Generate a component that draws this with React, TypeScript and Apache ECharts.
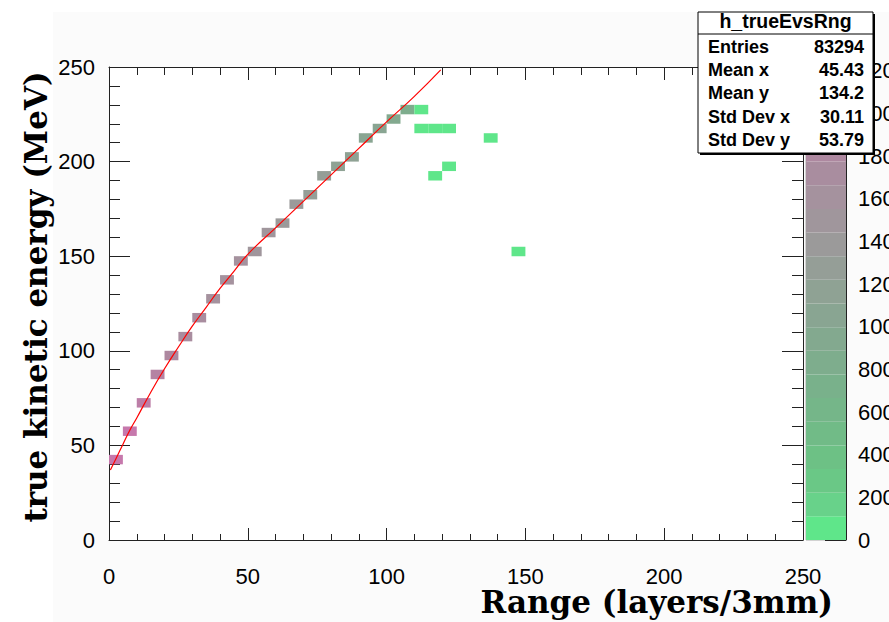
import React, { useEffect, useRef } from "react";
import * as echarts from "echarts";

// ---- histogram cells (bin lower edges, contents) ----
const binWidthX = 5;
const binWidthY = 5;
const cellX = [0, 5, 10, 15, 20, 25, 30, 35, 40, 45, 50, 55, 60, 65, 70, 75, 80, 85, 90, 95, 100, 105, 110, 110, 115, 120, 135, 120, 115, 145];
const cellY = [40, 55, 70, 85, 95, 105, 115, 125, 135, 145, 150, 160, 165, 175, 180, 190, 195, 200, 210, 215, 220, 225, 225, 215, 215, 215, 210, 195, 190, 150];
const cellCount = [2150, 2120, 2010, 1920, 1850, 1760, 1700, 1650, 1600, 1560, 1500, 1470, 1400, 1360, 1300, 1250, 1200, 1150, 1080, 1030, 920, 780, 30, 25, 25, 25, 20, 20, 20, 15];

// ---- fitted range-energy curve ----
const fitX = [0.5, 2.5, 5, 7.5, 10, 15, 20, 25, 30, 35, 40, 45, 50, 60, 70, 80, 90, 100, 110, 119.5];
const fitY = [37, 43, 50.5, 58, 64.5, 78, 90.5, 102, 113, 123, 133, 142, 151, 165, 179, 193, 207, 221, 234.5, 248.5];

// ---- colour scale ----
const zMax = 2218;
const zTickStep = 200;
const palette = [
  "#5fe68a", "#68d28a", "#6ac886", "#6dc185", "#71bb87",
  "#75b689", "#79b18b", "#7ead8d", "#83a98f", "#89a592",
  "#8fa294", "#959e97", "#9b9a9a", "#a0969c", "#a5929e",
  "#a98d9f", "#ae88a0", "#b483a3", "#bc7ea7", "#c678ac",
];

// ---- stats box ----
const statTitle = "h_trueEvsRng";
const statLabels = ["Entries", "Mean x", "Mean y", "Std Dev x", "Std Dev y"];
const statValues = ["83294", "45.43", "134.2", "30.11", "53.79"];

// ---- axis ----
const axisMin = 0;
const axisMax = 250;
const axisStep = 50;
const xTitle = "Range (layers/3mm)";
const yTitle = "true kinetic energy (MeV)";

const sans = "'Liberation Sans', Arial, Helvetica, sans-serif";
const serif = "'DejaVu Serif', 'Liberation Serif', serif";

function frameAxis(position: string, showLabel: boolean, major: number, minor: number, margin: number, grid = 0) {
  return {
    gridIndex: grid,
    type: "value",
    min: axisMin,
    max: axisMax,
    interval: axisStep,
    position,
    axisLine: { show: true, onZero: false, lineStyle: { color: "#222", width: 1 } },
    axisTick: { show: true, inside: true, length: major, lineStyle: { color: "#222", width: 1 } },
    minorTick: { show: true, splitNumber: 5, length: minor, lineStyle: { color: "#222", width: 1 } },
    axisLabel: { show: showLabel, margin, fontSize: 22, fontFamily: sans, color: "#000" },
    splitLine: { show: false },
    minorSplitLine: { show: false },
  };
}

export default function App() {
  const ref = useRef<HTMLDivElement>(null);

  useEffect(() => {
    if (!ref.current) return;
    const chart = echarts.init(ref.current, undefined, { renderer: "svg" });
    const nLevels = palette.length;
    const step = zMax / nLevels;

    const cells = cellX.map((x, i) => [x, cellY[i], cellCount[i]]);
    const fit = fitX.map((x, i) => [x, fitY[i]]);

    const statTexts: any[] = [];
    statLabels.forEach((lab, i) => {
      const cy = [47, 70, 93, 117, 139.5][i];
      statTexts.push({
        type: "text", x: 708, y: cy, z: 102,
        style: { text: lab, fontSize: 18, fontWeight: "bold", fontFamily: sans, fill: "#000", align: "left", verticalAlign: "middle", textAlign: "left", textVerticalAlign: "middle" },
      });
      statTexts.push({
        type: "text", x: 864, y: cy, z: 102,
        style: { text: statValues[i], fontSize: 18, fontWeight: "bold", fontFamily: sans, fill: "#000", align: "right", verticalAlign: "middle", textAlign: "right", textVerticalAlign: "middle" },
      });
    });

    const option: any = {
      animation: false,
      grid: [
        { left: 109, top: 67, width: 694, height: 473, show: true, backgroundColor: "#ffffff", borderWidth: 0, z: 0, outerBoundsMode: "none", containLabel: false },
        { left: 806, top: 67, width: 40, height: 473, show: true, backgroundColor: "transparent", borderColor: "#aaaaaa", borderWidth: 1, outerBoundsMode: "none", containLabel: false },
      ],
      xAxis: [
        frameAxis("bottom", true, 12, 6, 25),
        frameAxis("top", false, 13, 8, 8),
        { gridIndex: 1, type: "value", min: 0, max: 1, show: false },
      ],
      yAxis: [
        frameAxis("left", true, 21, 11, 14),
        frameAxis("right", false, 21, 11, 8),
        {
          gridIndex: 1,
          type: "value",
          min: 0,
          max: zMax,
          interval: zTickStep,
          position: "right",
          axisLine: { show: true, onZero: false, lineStyle: { color: "#222", width: 1 } },
          axisTick: { show: true, inside: true, length: 21, lineStyle: { color: "#222", width: 1 } },
          axisLabel: {
            show: true, margin: 12, fontSize: 22, fontFamily: sans, color: "#000", showMaxLabel: false,
            formatter: (v: number) => (v % zTickStep === 0 ? String(v) : ""),
          },
          splitLine: { show: false },
        },
      ],
      series: [
        {
          type: "custom",
          xAxisIndex: 0,
          yAxisIndex: 0,
          clip: true,
          z: 2,
          data: cells,
          renderItem: (params: any, api: any) => {
            const x0 = api.value(0);
            const y0 = api.value(1);
            const c = api.value(2);
            const p0 = api.coord([x0, y0 + binWidthY]);
            const p1 = api.coord([x0 + binWidthX, y0]);
            const lvl = Math.max(0, Math.min(nLevels - 1, Math.floor(c / step)));
            return {
              type: "rect",
              shape: { x: p0[0], y: p0[1], width: p1[0] - p0[0], height: p1[1] - p0[1] },
              style: { fill: palette[lvl] },
            };
          },
        },
        {
          type: "line",
          xAxisIndex: 0,
          yAxisIndex: 0,
          data: fit,
          showSymbol: false,
          smooth: true,
          z: 3,
          lineStyle: { color: "#ff0000", width: 1.2 },
        },
        {
          type: "custom",
          xAxisIndex: 2,
          yAxisIndex: 2,
          z: 2,
          data: palette.map((_, i) => [0.5, i]),
          renderItem: (params: any, api: any) => {
            const i = params.dataIndex;
            const p0 = api.coord([0, (i + 1) * step]);
            const p1 = api.coord([1, i * step]);
            return {
              type: "rect",
              shape: { x: p0[0], y: p0[1], width: p1[0] - p0[0], height: p1[1] - p0[1] },
              style: { fill: palette[i] },
            };
          },
        },
      ],
      graphic: [
        { type: "rect", z: -10, silent: true, shape: { x: 53, y: 12, width: 836, height: 610 }, style: { fill: "#fbfbfb" } },
        {
          type: "text", x: 833, y: 602, z: 50,
          style: { text: xTitle, fontSize: 31, fontWeight: "bold", fontFamily: serif, fill: "#000", align: "right", verticalAlign: "middle", textAlign: "right", textVerticalAlign: "middle" },
        },
        {
          type: "text", x: 36, y: 297, z: 50, rotation: Math.PI / 2,
          style: { text: yTitle, fontSize: 31, fontWeight: "bold", fontFamily: serif, fill: "#000", align: "center", verticalAlign: "middle", textAlign: "center", textVerticalAlign: "middle" },
        },
        { type: "rect", z: 99, shape: { x: 700, y: 14, width: 175, height: 141 }, style: { fill: "#000" } },
        { type: "rect", z: 100, shape: { x: 698, y: 12, width: 175, height: 141 }, style: { fill: "#ffffff", stroke: "#000", lineWidth: 1 } },
        { type: "line", z: 101, shape: { x1: 698, y1: 34, x2: 873, y2: 34 }, style: { stroke: "#000", lineWidth: 1 } },
        {
          type: "text", x: 785.5, y: 21, z: 102,
          style: { text: statTitle, fontSize: 19.5, fontWeight: "bold", fontFamily: sans, fill: "#000", align: "center", verticalAlign: "middle", textAlign: "center", textVerticalAlign: "middle" },
        },
        ...statTexts,
      ],
    };

    chart.setOption(option);
    return () => chart.dispose();
  }, []);

  return (
    <div
      ref={ref}
      style={{ position: "fixed", left: 0, top: 0, width: 889, height: 622, background: "#ffffff" }}
    />
  );
}
